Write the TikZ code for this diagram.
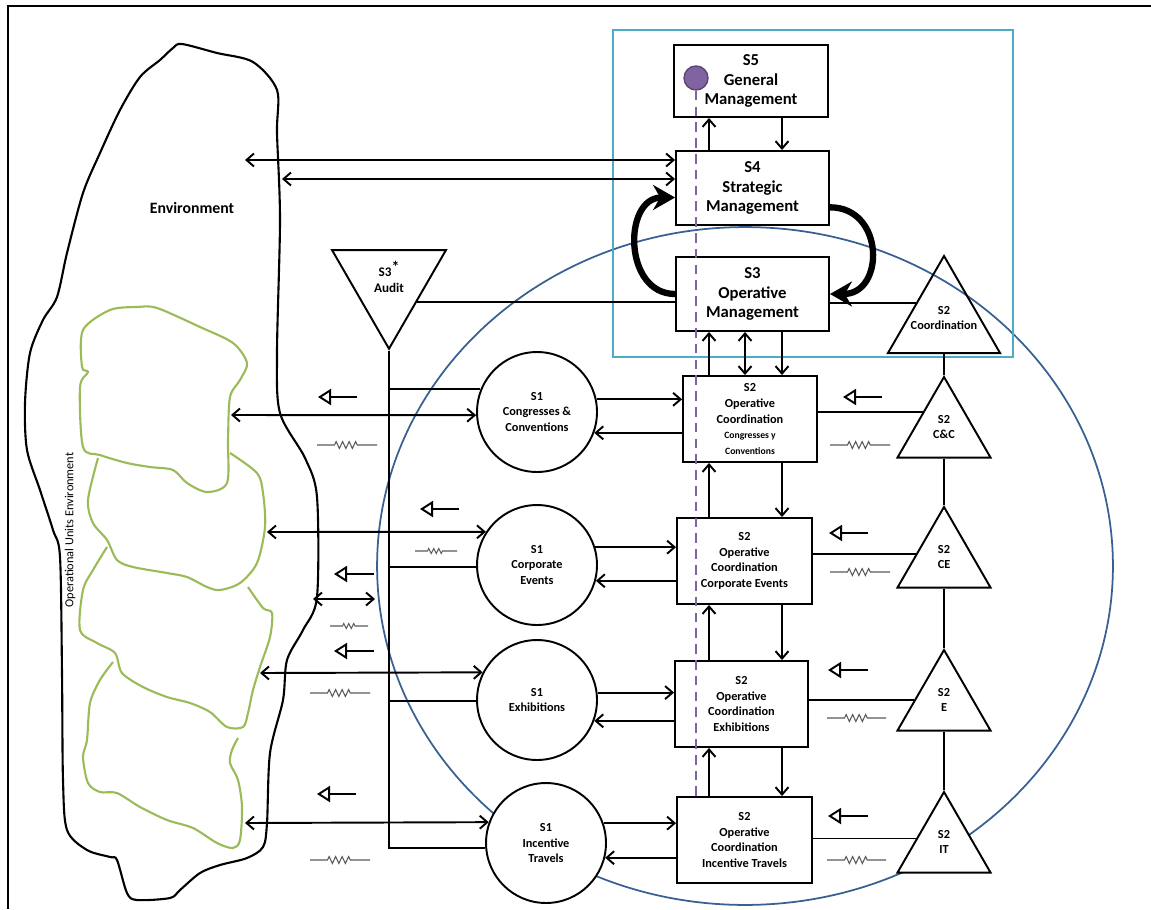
\documentclass[tikz,border=0pt]{standalone}
\usepackage{fontspec}
\setmainfont{Carlito}
\usetikzlibrary{shapes.geometric, arrows.meta, calc, decorations.pathmorphing}
\definecolor{vsmteal}{RGB}{75,172,198}
\definecolor{vsmblue}{RGB}{56,97,146}
\definecolor{vsmgreen}{RGB}{155,187,89}
\definecolor{vsmpurple}{RGB}{128,100,162}
\newcommand{\tinytxt}{\fontsize{5.5}{6.5}\selectfont}

\begin{document}
\begin{tikzpicture}[
			x=0.02cm, y=-0.02cm,
			line width=1.1pt,
			font=\bfseries\fontsize{7}{9}\selectfont,
			mgmt/.style={draw, rectangle, fill=white, align=center, minimum width=3.06cm, minimum height=1.48cm, font=\bfseries\fontsize{9.5}{11.3}\selectfont},
			opbox/.style={draw, rectangle, fill=white, align=center, minimum width=2.7cm, minimum height=1.72cm, inner sep=1pt},
			unit/.style={draw, circle, fill=white, align=center, minimum size=2.4cm, inner sep=0pt},
			coord/.style={draw, regular polygon, regular polygon sides=3, fill=white, inner sep=0pt},
			tritext/.style={align=center, inner sep=0pt},
			arrow/.style={-{Straight Barb[length=1.5mm, width=2.6mm]}},
			both/.style={{Straight Barb[length=1.5mm, width=2.6mm]}-{Straight Barb[length=1.5mm, width=2.6mm]}},
			feedback/.style={-{Stealth[length=4.4mm, width=5mm]}, line width=3.6pt},
			signal/.style={-{Triangle[open, length=2.6mm, width=3.2mm]}},
			noise/.style={black!65, line width=0.6pt, decorate, decoration={zigzag, segment length=1.3mm, amplitude=0.7mm, pre length=0.35cm, post length=0.35cm}},
			smallnoise/.style={noise, decoration={zigzag, segment length=1mm, amplitude=0.5mm, pre length=0.25cm, post length=0.25cm}},
			blob/.style={vsmgreen, line width=1.2pt}
			]
			\useasboundingbox (0,0) rectangle (1151,909);
			
			% Frame, environment and operational units
			\draw [line width=1pt] (8,909) -- (8,6) -- (1151,6);
			\draw [vsmblue, line width=1pt] (745,566) ellipse [x radius=7.36cm, y radius=6.78cm];
			\draw [vsmteal, line width=1.2pt] (613,30) rectangle (1013,357);
			\draw [line width=1.2pt] plot [smooth cycle, tension=0.5] coordinates {(182,44) (217,53) (253,62) (277,90) (277,133) (280,220) (277,353) (280,413) (305,458) (317,497) (317,597) (303,630) (287,660) (283,700) (270,753) (267,823) (263,847) (247,858) (220,865) (200,873) (180,890) (170,898) (137,900) (127,893) (117,860) (110,857) (87,850) (67,830) (63,780) (62,673) (60,557) (53,530) (40,490) (27,450) (25,403) (30,353) (43,320) (57,297) (67,253) (83,193) (100,153) (120,110) (140,77) (160,60) (173,48)};
			\draw [blob] plot [smooth cycle, tension=0.5] coordinates {(83,330) (110,310) (137,307) (157,308) (200,327) (233,343) (247,363) (240,380) (230,397) (228,440) (227,483) (207,492) (187,483) (173,470) (150,467) (127,463) (100,455) (83,447) (80,387) (88,372) (82,367)};
			\draw [blob] plot [smooth, tension=0.5] coordinates {(98,458) (88,500) (93,523) (107,540) (117,560) (133,567) (167,573) (187,577) (207,587) (220,590) (240,583) (257,563) (265,527) (263,493) (257,473) (230,453)};
			\draw [blob] plot [smooth, tension=0.5] coordinates {(107,547) (93,570) (83,590) (80,630) (97,643) (115,653) (122,673) (143,687) (167,697) (190,703) (210,712) (227,727) (243,727) (248,713) (253,690) (260,667) (270,637) (272,613) (263,608) (248,587)};
			\draw [blob] plot [smooth, tension=0.5] coordinates {(113,662) (100,680) (90,703) (87,740) (83,757) (88,783) (100,792) (117,793) (140,807) (167,820) (193,828) (217,843) (233,848) (240,840) (242,807) (238,780) (230,763) (232,750) (238,738)};
			\node (envtxt) [font=\bfseries\fontsize{9}{11}\selectfont] at (192,208) {Environment};
			\node (outxt) [rotate=90, font=\fontsize{7}{8}\selectfont] at (70,530) {Operational Units Environment};
			
			% Nodes
			\node (s5) [mgmt, minimum width=3.08cm, minimum height=1.44cm] at (751,81) {S5\\General\\Management};
			\node (s4) [mgmt] at (752.5,188) {S4\\Strategic\\Management};
			\node (s3) [mgmt] at (752.5,294) {S3\\Operative\\Management};
			\node (dot) [circle, fill=vsmpurple, draw=vsmpurple!70!black, line width=0.8pt, minimum size=0.48cm, inner sep=0pt] at (696,78) {};
			
			\node (audit) [coord, shape border rotate=180, minimum size=2.63cm] at (389,283) {};
			\node (audit-txt) [tritext, font=\bfseries\fontsize{7.5}{9.5}\selectfont] at (389,277) {S3\raisebox{0.6ex}{\fontsize{9}{9}\selectfont*}\\Audit};
			
			\node (c1cc) [unit] at (537,412) {S1\\Congresses \&\\Conventions};
			\node (c1ce) [unit] at (537,565) {S1\\Corporate\\Events};
			\node (c1e) [unit] at (537,700) {S1\\Exhibitions};
			\node (c1it) [unit] at (546,843) {S1\\Incentive\\Travels};
			
			\node (b2cc) [opbox, minimum width=2.68cm] at (750,419) {S2\\Operative\\Coordination\\\tinytxt Congresses y\\\tinytxt Conventions};
			\node (b2ce) [opbox] at (744.5,561) {S2\\Operative\\Coordination\\Corporate Events};
			\node (b2e) [opbox, minimum width=2.66cm] at (741.5,704) {S2\\Operative\\Coordination\\Exhibitions};
			\node (b2it) [opbox] at (744.5,840) {S2\\Operative\\Coordination\\Incentive Travels};
			
			\node (tco) [coord, fill=none, minimum size=2.59cm] at (944,320.7) {};
			\node (tco-txt) [tritext] at (944,318) {S2\\Coordination};
			\node (t2cc) [coord, minimum size=2.15cm] at (944,430.7) {};
			\node (t2cc-txt) [tritext] at (944,427) {S2\\C\&C};
			\node (t2ce) [coord, minimum size=2.15cm] at (944,560.7) {};
			\node (t2ce-txt) [tritext] at (944,557) {S2\\CE};
			\node (t2e) [coord, minimum size=2.15cm] at (944,703.7) {};
			\node (t2e-txt) [tritext] at (944,700) {S2\\E};
			\node (t2it) [coord, minimum size=2.15cm] at (944,845.7) {};
			\node (t2it-txt) [tritext] at (944,842) {S2\\IT};
			
			% Coordinates
			\coordinate (up) at (709,0);
			\coordinate (mid) at (745,0);
			\coordinate (dn) at (782,0);
			\coordinate (dashend) at (696,800);
			\coordinate (env-a) at (245,160);
			\coordinate (env-b) at (282,179);
			\coordinate (ou-cc) at (231,415);
			\coordinate (ou-ce) at (267,532);
			\coordinate (ou-e) at (260,673);
			\coordinate (ou-it) at (245,823);
			\coordinate (ou-x1) at (313,599);
			\coordinate (ou-x2) at (375,599);
			\coordinate (audit-out) at ($(audit.corner 2)!0.52!(audit.corner 1)$);
			\coordinate (tco-in) at ($(tco.corner 1)!0.485!(tco.corner 2)$);
			\coordinate (t2cc-in) at ($(t2cc.corner 1)!0.44!(t2cc.corner 2)$);
			\coordinate (t2ce-in) at ($(t2ce.corner 1)!0.585!(t2ce.corner 2)$);
			\coordinate (t2e-in) at ($(t2e.corner 1)!0.62!(t2e.corner 2)$);
			\coordinate (t2it-in) at ($(t2it.corner 1)!0.58!(t2it.corner 2)$);
			
			% Connections
			\draw [both] (env-a) -- (s4.west |- env-a);
			\draw [both] (env-b) -- (s4.west |- env-b);
			\draw [arrow] (s4.north -| up) -- (s5.south -| up);
			\draw [arrow] (s5.south -| dn) -- (s4.north -| dn);
			\draw [feedback] (s3.west) .. controls +(-52,0) and +(-52,0) .. (s4.187);
			\draw [feedback] (s4.-14) .. controls +(55,0) and +(55,0) .. (s3.east);
			\draw (audit-out) -- (s3.west |- audit-out);
			\draw (s3.east |- tco-in) -- (tco-in);
			
			\draw [arrow] (b2cc.north -| up) -- (s3.south -| up);
			\draw [both] (b2cc.north -| mid) -- (s3.south -| mid);
			\draw [arrow] (s3.south -| dn) -- (b2cc.north -| dn);
			\draw [arrow] (b2ce.north -| up) -- (b2cc.south -| up);
			\draw [arrow] (b2cc.south -| dn) -- (b2ce.north -| dn);
			\draw [arrow] (b2e.north -| up) -- (b2ce.south -| up);
			\draw [arrow] (b2ce.south -| dn) -- (b2e.north -| dn);
			\draw [arrow] (b2it.north -| up) -- (b2e.south -| up);
			\draw [arrow] (b2e.south -| dn) -- (b2it.north -| dn);
			
			\draw [arrow] (c1cc.12) -- (b2cc.west |- c1cc.12);
			\draw [arrow] (b2cc.west |- c1cc.-20) -- (c1cc.-20);
			\draw [arrow] (c1ce.17) -- (b2ce.west |- c1ce.17);
			\draw [arrow] (b2ce.west |- c1ce.-15) -- (c1ce.-15);
			\draw [arrow] (c1e.7) -- (b2e.west |- c1e.7);
			\draw [arrow] (b2e.west |- c1e.-20) -- (c1e.-20);
			\draw [arrow] (c1it.19) -- (b2it.west |- c1it.19);
			\draw [arrow] (b2it.west |- c1it.-14) -- (c1it.-14);
			
			\draw (audit.corner 1) |- (c1it.185);
			\draw (audit.corner 1 |- c1cc.158) -- (c1cc.158);
			\draw (audit.corner 1 |- c1ce.182) -- (c1ce.182);
			\draw (audit.corner 1 |- c1e.181) -- (c1e.181);
			
			\draw [both] (ou-cc) -- (c1cc.183);
			\draw [both] (ou-ce) -- (c1ce.147);
			\draw [both] (ou-e) -- (c1e.153);
			\draw [both] (ou-it) -- (c1it.160);
			\draw [both] (ou-x1) -- (ou-x2);
			
			\draw (b2cc.east |- t2cc-in) -- (t2cc-in);
			\draw (b2ce.east |- t2ce-in) -- (t2ce-in);
			\draw (b2e.east |- t2e-in) -- (t2e-in);
			\draw (b2it.east |- t2it-in) -- (t2it-in);
			\draw (tco.side 2) -- (t2cc.corner 1);
			\draw (t2cc.side 2) -- (t2ce.corner 1);
			\draw (t2ce.side 2) -- (t2e.corner 1);
			\draw (t2e.side 2) -- (t2it.corner 1);
			
			\draw [vsmpurple, dash pattern=on 5.5pt off 3.5pt, line width=1.5pt] (dot.south) -- (dashend);
			
			% Signals and noise
			\draw [signal] (357,397) -- (318,397);
			\draw [signal] (459,509) -- (420,509);
			\draw [signal] (374,574) -- (334,574);
			\draw [signal] (374,651) -- (334,651);
			\draw [signal] (356,794) -- (317,794);
			\draw [signal] (882,397) -- (843,397);
			\draw [signal] (868,533) -- (829,533);
			\draw [signal] (868,670) -- (828,670);
			\draw [signal] (868,816) -- (828,816);
			\draw [noise] (317,445) -- (377,445);
			\draw [smallnoise] (415,551) -- (457,551);
			\draw [smallnoise] (330,626) -- (368,626);
			\draw [noise] (310,693) -- (370,693);
			\draw [noise] (310,860) -- (370,860);
			\draw [noise] (830,445) -- (890,445);
			\draw [noise] (830,572) -- (890,572);
			\draw [noise] (827,718) -- (886,718);
			\draw [noise] (827,860) -- (886,860);
			
		\end{tikzpicture}
\end{document}
